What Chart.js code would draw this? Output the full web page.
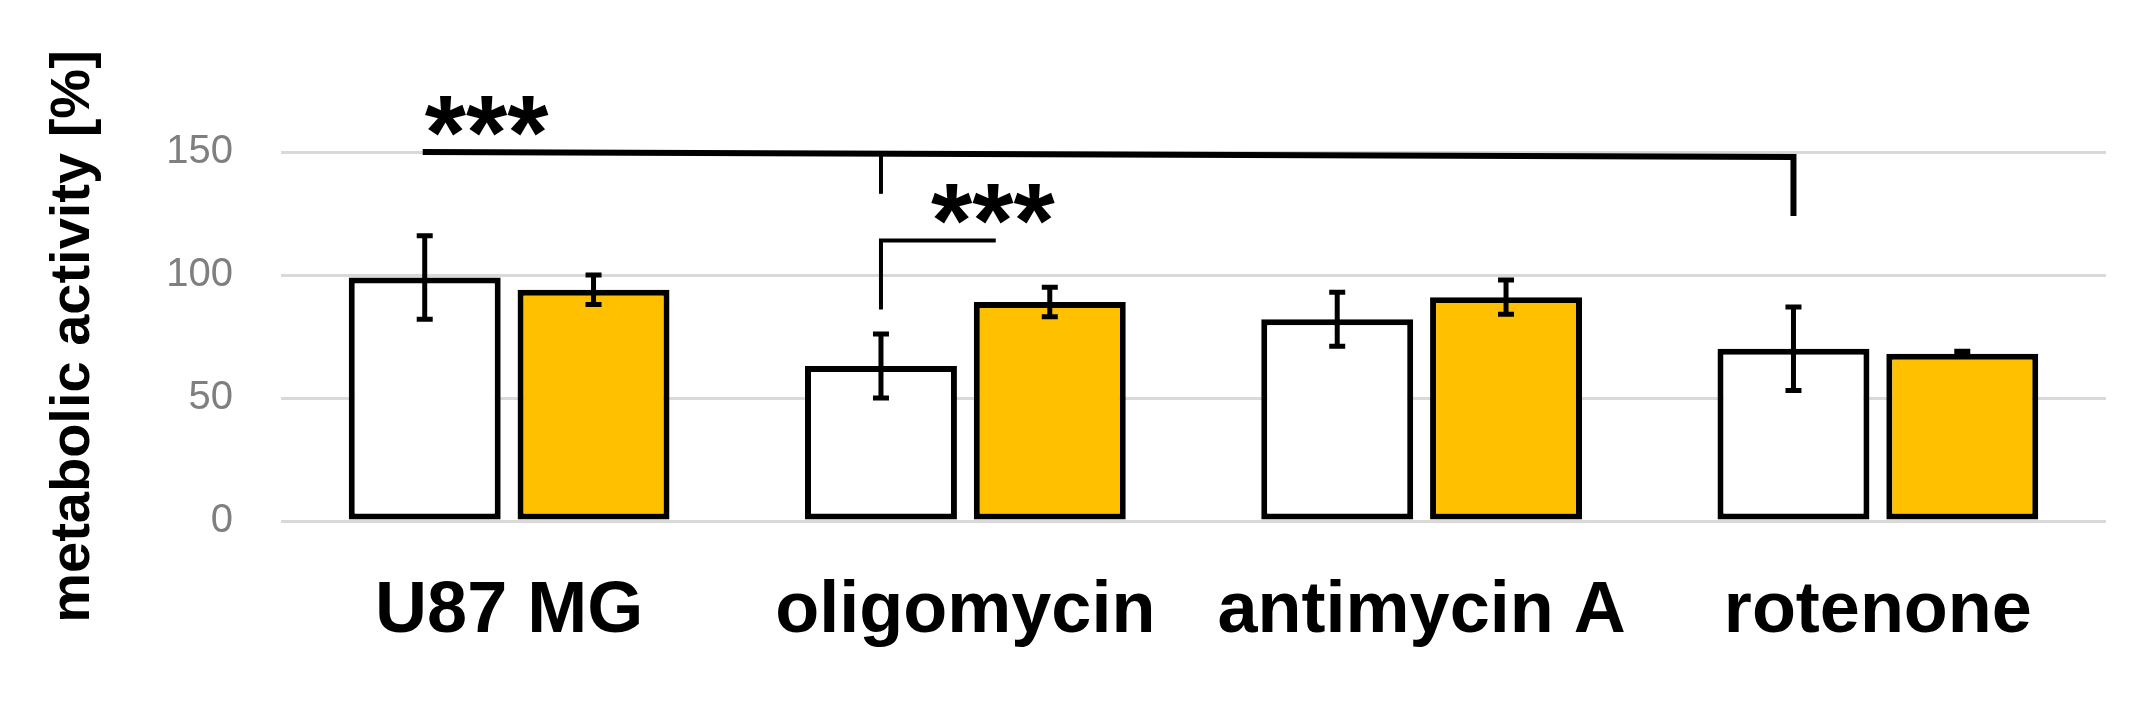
<!DOCTYPE html>
<html>
<head>
<meta charset="utf-8">
<script src="https://cdn.jsdelivr.net/npm/chart.js@4"></script>
<style>html,body{margin:0;background:#fff;}</style>
</head>
<body>
<canvas id="grafico" width="2152" height="705"></canvas>
<script>
const categorias = ['U87 MG', 'oligomycin', 'antimycin A', 'rotenone'];
const controle = [99, 63, 82, 70];
const controleErro = [17, 13, 11, 17];
const tratado = [94, 89, 91, 68];
const tratadoErro = [6, 6, 7, 1];
const ticksY = [0, 50, 100, 150];

const errosPlugin = {
    id: 'erros',
    afterDatasetsDraw(chart) {
        const ctx = chart.ctx;
        const y = chart.scales.y;
        const erros = [controleErro, tratadoErro];
        const valores = [controle, tratado];
        ctx.save();
        ctx.strokeStyle = '#000';
        ctx.lineWidth = 5;
        [0, 1].forEach(function(d) {
            chart.getDatasetMeta(d).data.forEach(function(bar, i) {
                const top = y.getPixelForValue(valores[d][i] + erros[d][i]);
                const bot = y.getPixelForValue(valores[d][i] - erros[d][i]);
                ctx.beginPath();
                ctx.moveTo(bar.x, top); ctx.lineTo(bar.x, bot);
                ctx.moveTo(bar.x - 8, top); ctx.lineTo(bar.x + 8, top);
                ctx.moveTo(bar.x - 8, bot); ctx.lineTo(bar.x + 8, bot);
                ctx.stroke();
            });
        });
        // significance brackets
        const b = chart.getDatasetMeta(0).data;
        const t = chart.getDatasetMeta(1).data;
        ctx.lineWidth = 6;
        ctx.beginPath();
        ctx.moveTo(b[0].x - 2, y.getPixelForValue(150));
        ctx.lineTo(b[3].x, y.getPixelForValue(148));
        ctx.lineTo(b[3].x, y.getPixelForValue(124));
        ctx.stroke();
        ctx.lineWidth = 4;
        ctx.beginPath();
        ctx.moveTo(b[1].x, y.getPixelForValue(149));
        ctx.lineTo(b[1].x, y.getPixelForValue(133));
        ctx.stroke();
        const xFim = b[1].x + (t[1].x - b[1].x) * 0.68;
        ctx.beginPath();
        ctx.moveTo(b[1].x, y.getPixelForValue(86));
        ctx.lineTo(b[1].x, y.getPixelForValue(114));
        ctx.lineTo(xFim, y.getPixelForValue(114));
        ctx.stroke();
        ctx.fillStyle = '#000';
        ctx.font = 'bold 106px "Liberation Sans"';
        ctx.textAlign = 'left';
        ctx.textBaseline = 'middle';
        ctx.fillText('***', b[0].x, y.getPixelForValue(155));
        ctx.fillText('***', b[1].x + 50, y.getPixelForValue(119));
        ctx.restore();
    }
};

new Chart(document.getElementById('grafico'), {
    type: 'bar',
    data: {
        labels: categorias,
        datasets: [
            { data: controle, backgroundColor: '#ffffff', borderColor: '#000', borderWidth: 6, borderSkipped: false },
            { data: tratado, backgroundColor: '#ffc000', borderColor: '#000', borderWidth: 6, borderSkipped: false }
        ]
    },
    options: {
        responsive: false,
        animation: false,
        layout: { padding: { left: 40, top: 152, right: 46, bottom: 0 } },
        datasets: { bar: { categoryPercentage: 0.74, barPercentage: 0.9 } },
        plugins: { legend: { display: false }, tooltip: { enabled: false } },
        scales: {
            x: {
                grid: { display: false },
                border: { display: false },
                ticks: { color: '#000', padding: 40, font: { family: 'Liberation Sans', weight: 'bold', size: 72 } },
                afterFit(s) { s.height = 184; }
            },
            y: {
                min: 0, max: 150,
                afterBuildTicks(s) { s.ticks = ticksY.map(v => ({ value: v })); },
                grid: { color: '#d9d9d9', lineWidth: 3, drawTicks: false },
                border: { display: false },
                ticks: { color: '#7f7f7f', padding: 48, font: { family: 'Liberation Sans Narrow, Liberation Sans', size: 40 } },
                title: { display: true, text: 'metabolic activity [%]', color: '#000', padding: 0,
                         font: { family: 'Liberation Sans', weight: 'bold', size: 56 } },
                afterFit(s) { s.width = 241; }
            }
        }
    },
    plugins: [errosPlugin]
});
</script>
</body>
</html>
